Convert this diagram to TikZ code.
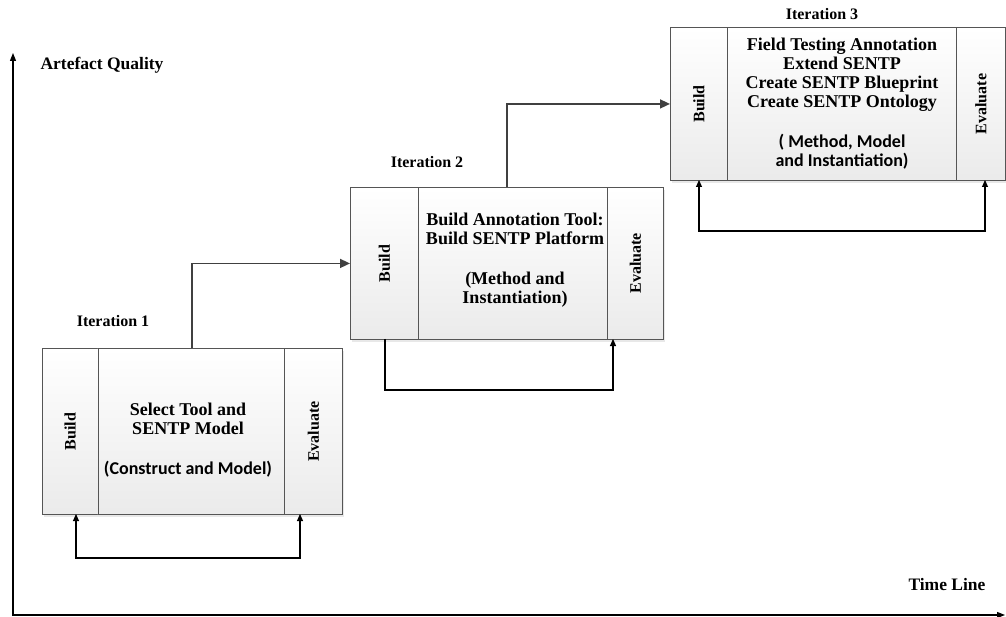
\documentclass[tikz,border=0pt]{standalone}
\usepackage{fontspec}
\setmainfont{Liberation Serif}
\newfontfamily\carl{Carlito}
\usetikzlibrary{arrows.meta,shadows}
\definecolor{boxline}{HTML}{555555}
\definecolor{connline}{HTML}{404040}
\tikzset{
  sect/.style={draw=boxline, line width=0.9pt, top color=white, bottom color=gray!16,
    inner sep=0pt, anchor=north west,
    drop shadow={shadow xshift=2pt, shadow yshift=-3pt, fill=gray!35, opacity=0.5}},
  rot/.style={rotate=90, font=\bfseries\fontsize{16}{18}\selectfont, inner sep=0pt},
  maintext/.style={align=center, font=\bfseries\fontsize{18}{19}\selectfont, inner sep=0pt},
  lab/.style={font=\bfseries\fontsize{16}{18}\selectfont, inner sep=0pt},
  biglab/.style={font=\bfseries\fontsize{17.5}{19}\selectfont, inner sep=0pt},
  conn/.style={draw=connline, line width=1.6pt, -{Triangle[length=10pt,width=9pt]}},
  loopline/.style={draw=black, line width=1.1pt},
  axisline/.style={draw=black, line width=1.3pt}
}
\begin{document}
\begin{tikzpicture}[x=1pt,y=-1pt]
\useasboundingbox (0,0) rectangle (1006,617);

% axes
\coordinate (O) at (13,615);
\coordinate (Ytop) at (13,53);
\coordinate (Xend) at (1005,615);
\draw[axisline, {Triangle[length=8pt,width=6pt]}-{Triangle[length=8pt,width=6pt]}] (Ytop) -- (O) -- (Xend);
\node[biglab] (aq) at (102,65) {Artefact Quality};
\node[biglab] (tl) at (947,585) {Time Line};

% Iteration 1
\node[sect, minimum width=55.5pt, minimum height=166pt] (b1b) at (42,348) {};
\node[sect, minimum width=186.5pt, minimum height=166pt] (b1m) at (97.5,348) {};
\node[sect, minimum width=58pt, minimum height=166pt] (b1e) at (284,348) {};
\node[rot] (t1b) at (b1b.center) {Build};
\node[rot] (t1e) at (b1e.center) {Evaluate};
\node[maintext] (t1m) at (188,440.5) {Select Tool and\\SENTP Model\\[21pt]{\carl\bfseries (Construct and Model)}};
\node[lab] (it1) at (113,321) {Iteration 1};

% Iteration 2
\node[sect, minimum width=68pt, minimum height=152pt] (b2b) at (350,187) {};
\node[sect, minimum width=189pt, minimum height=152pt] (b2m) at (418,187) {};
\node[sect, minimum width=56pt, minimum height=152pt] (b2e) at (607,187) {};
\node[rot] (t2b) at (b2b.center) {Build};
\node[rot] (t2e) at (b2e.center) {Evaluate};
\node[maintext] (t2m) at (515,260.5) {Build Annotation Tool:\\Build SENTP Platform\\[21pt](Method and\\Instantiation)};
\node[lab] (it2) at (427,162) {Iteration 2};

% Iteration 3
\node[sect, minimum width=57pt, minimum height=153pt] (b3b) at (670,27) {};
\node[sect, minimum width=229pt, minimum height=153pt] (b3m) at (727,27) {};
\node[sect, minimum width=49pt, minimum height=153pt] (b3e) at (956,27) {};
\node[rot] (t3b) at (b3b.center) {Build};
\node[rot] (t3e) at (b3e.center) {Evaluate};
\node[maintext] (t3m) at (842,103.5) {Field Testing Annotation\\Extend SENTP\\Create SENTP Blueprint\\Create SENTP Ontology\\[21pt]{\carl\bfseries ( Method, Model}\\{\carl\bfseries and Instantiation)}};
\node[lab] (it3) at (822,14) {Iteration 3};

% connectors between iterations
\coordinate (u1) at (192,348);
\coordinate (u2) at (507,187);
\draw[conn] (u1) |- (b2b.west);
\draw[conn] (u2) |- (b3b.west);

% feedback loops
\coordinate (l1a) at (76,514);
\coordinate (l1b) at (300,514);
\draw[loopline, {Triangle[length=7pt,width=6pt]}-{Triangle[length=7pt,width=6pt]}] (l1a) -- ++(0,44) -| (l1b);

\coordinate (l2a) at (385,339);
\coordinate (l2b) at (613,339);
\draw[loopline, -{Triangle[length=7pt,width=6pt]}] (l2a) -- ++(0,51) -| (l2b);

\coordinate (l3a) at (699,180);
\coordinate (l3b) at (985,180);
\draw[loopline, {Triangle[length=7pt,width=6pt]}-{Triangle[length=7pt,width=6pt]}] (l3a) -- ++(0,51) -| (l3b);
\end{tikzpicture}
\end{document}
